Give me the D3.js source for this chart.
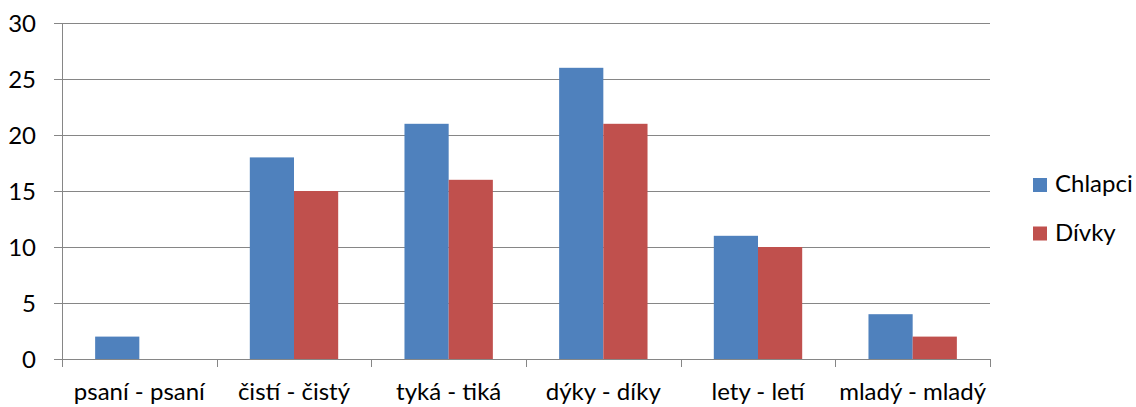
<!DOCTYPE html>
<html><head><meta charset="utf-8">
<script src="https://cdn.jsdelivr.net/npm/d3@7"></script>
<style>body{margin:0;background:#fff}text{font-family:Lato,"Liberation Sans",sans-serif;fill:#000}</style>
</head><body>
<svg id="c" width="1136" height="407"></svg>
<script>
const categories = ["psaní - psaní","čistí - čistý","tyká - tiká","dýky - díky","lety - letí","mladý - mladý"];
const seriesNames = ["Chlapci","Dívky"];
const chlapci = [2,18,21,26,11,4];
const divky = [0,15,16,21,10,2];
const yTicks = [0,5,10,15,20,25,30];
const colors = ["#4F81BD","#C0504D"];

const svg = d3.select("#c");
const L=62,R=990,T=23,B=359;
const x = d3.scaleBand().domain(categories).range([L,R]).padding(0);
const x1 = d3.scaleBand().domain(seriesNames).range([0,x.bandwidth()]).paddingInner(0).paddingOuter(0.75);
const y = d3.scaleLinear().domain([0,30]).range([B,T]);
const grid="#868686";
const fs="24px";

// gridlines
svg.append("g").selectAll("line").data(yTicks).join("line")
 .attr("x1",L-8).attr("x2",R).attr("y1",d=>y(d)+0.5).attr("y2",d=>y(d)+0.5)
 .attr("stroke",grid).attr("stroke-width",1);
// y labels
svg.append("g").selectAll("text").data(yTicks).join("text")
 .attr("x",36).attr("y",d=>y(d)+8.5).attr("text-anchor","end")
 .style("font-size",fs).text(d=>d);
// bars
const data = categories.map((c,i)=>({c, vals:[chlapci[i],divky[i]]}));
svg.append("g").selectAll("g").data(data).join("g")
 .attr("transform",d=>`translate(${x(d.c)},0)`)
 .selectAll("rect").data(d=>d.vals.map((v,j)=>({v,s:seriesNames[j],j}))).join("rect")
 .attr("x",d=>x1(d.s)).attr("width",x1.bandwidth())
 .attr("y",d=>y(d.v)).attr("height",d=>B-y(d.v))
 .attr("fill",d=>colors[d.j]);
// axes
svg.append("line").attr("x1",L+0.5).attr("x2",L+0.5).attr("y1",T).attr("y2",B+8).attr("stroke",grid);
const catTicks = categories.map(c=>x(c)).concat([R]);
svg.append("g").selectAll("line").data(catTicks).join("line")
 .attr("x1",d=>Math.round(d)+0.5).attr("x2",d=>Math.round(d)+0.5).attr("y1",B).attr("y2",B+8).attr("stroke",grid);
svg.append("line").attr("x1",L-8).attr("x2",R).attr("y1",B+0.5).attr("y2",B+0.5).attr("stroke",grid);
// x labels
svg.append("g").selectAll("text").data(categories).join("text")
 .attr("x",d=>x(d)+x.bandwidth()/2).attr("y",400).attr("text-anchor","middle")
 .style("font-size",fs).text(d=>d);
// legend
const lg = svg.append("g").selectAll("g").data(seriesNames).join("g")
 .attr("transform",(d,i)=>`translate(1033,${178+i*48.5})`);
lg.append("rect").attr("width",14).attr("height",14).attr("fill",(d,i)=>colors[i]);
lg.append("text").attr("x",22).attr("y",14).style("font-size",fs).text(d=>d);
</script>
</body></html>
